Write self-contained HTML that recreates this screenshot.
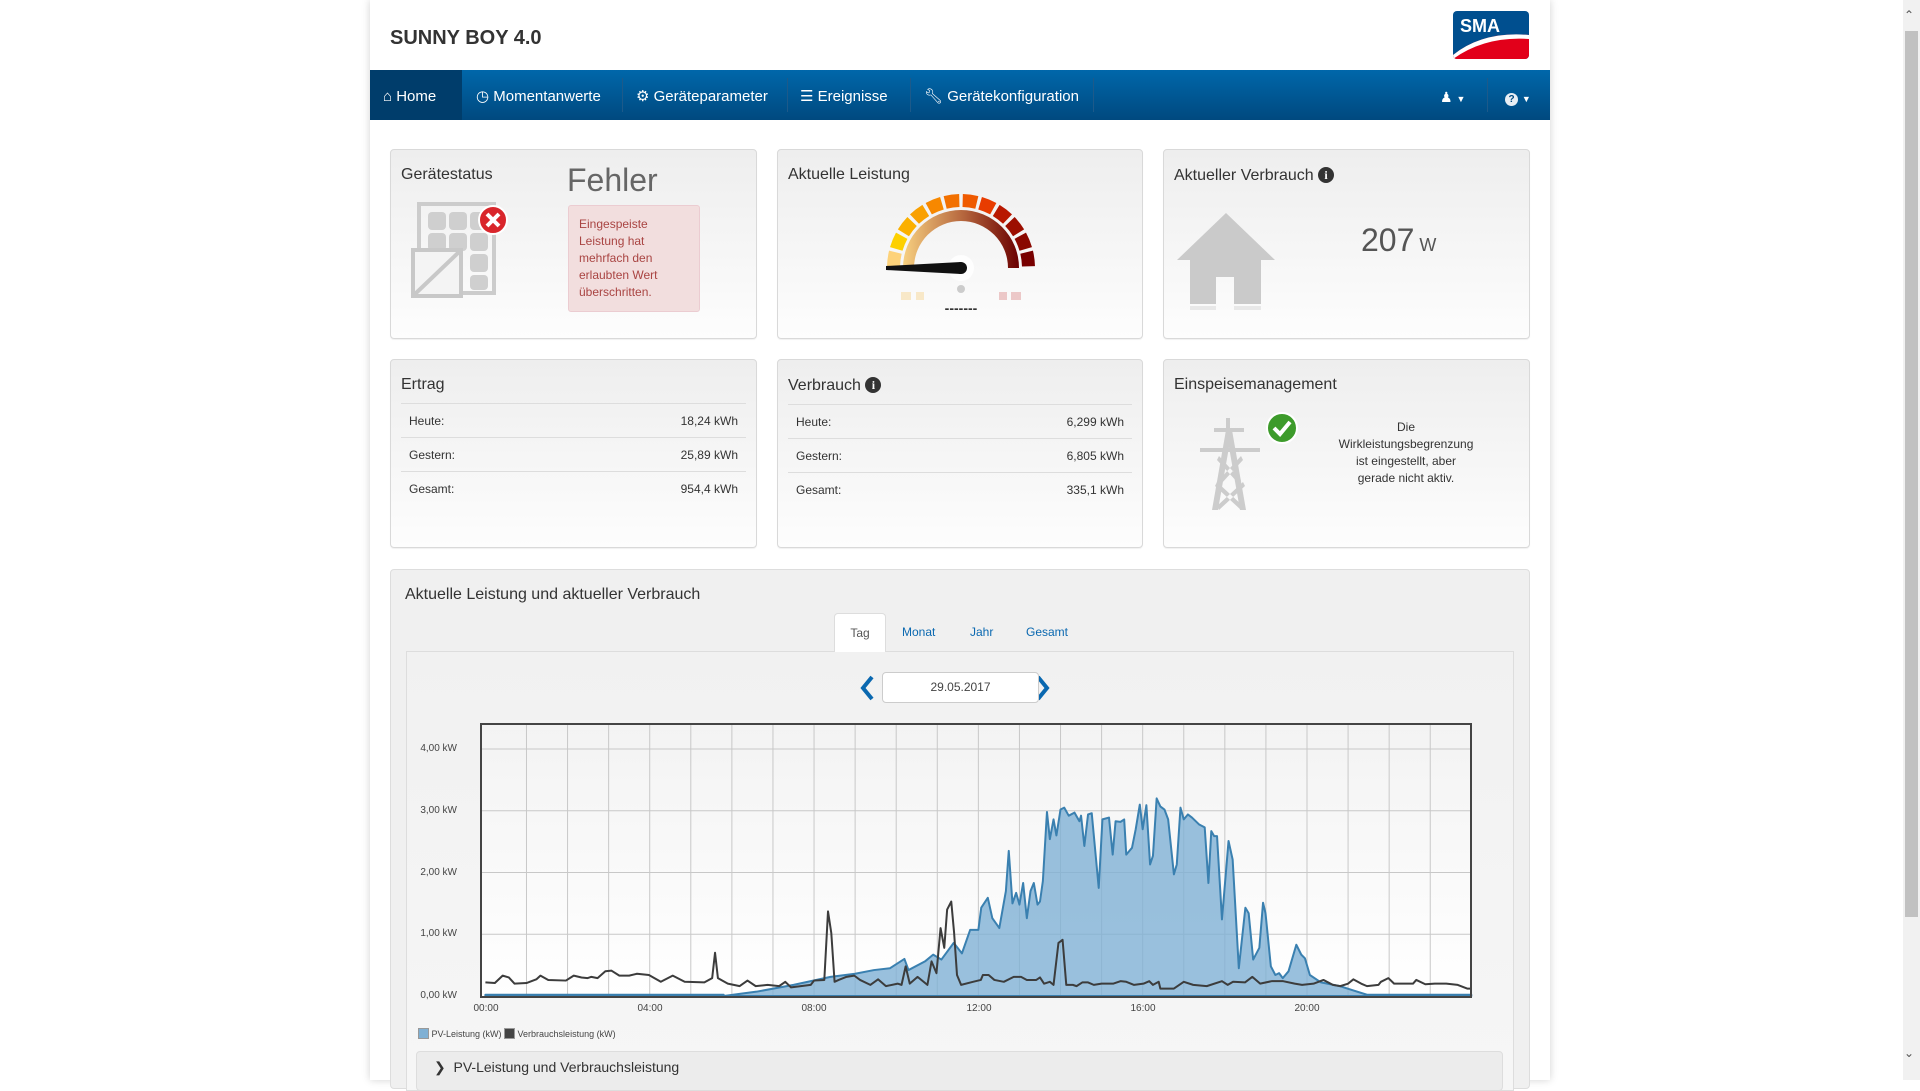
<!DOCTYPE html>
<html><head><meta charset="utf-8"><style>
*{box-sizing:border-box;margin:0;padding:0}
body{width:1920px;height:1080px;overflow:hidden;background:#fff;font-family:"Liberation Sans",sans-serif;position:relative;color:#333}
.abs{position:absolute}
#page{position:absolute;left:370px;top:0;width:1180px;height:1080px;background:#fff;box-shadow:0 0 8px rgba(0,0,0,.18)}
.nav{position:absolute;left:370px;top:70px;width:1180px;height:50px;background:linear-gradient(#0067aa,#00497f)}
.nav .it{position:absolute;top:2px;height:50px;line-height:50px;color:#fff;font-size:15px;white-space:nowrap}
.sep{position:absolute;top:8px;width:1px;height:34px;background:#1d5a8a}
.card{position:absolute;border:1px solid #d9d9d9;border-radius:4px;background:linear-gradient(#eeeeee,#fdfdfd);box-shadow:0 1px 1px rgba(0,0,0,.06)}
.ct{position:absolute;left:10px;top:16px;font-size:16px;color:#333}
.row{position:absolute;left:10px;right:10px;height:34px;border-top:1px solid #ddd;font-size:12px;line-height:34px}
.row span{position:absolute;right:8px}
.row b{font-weight:normal;position:absolute;left:8px}
.info{display:inline-block;width:16px;height:16px;border-radius:50%;background:#333;color:#fff;font-size:12px;font-weight:bold;text-align:center;line-height:16px;font-family:"Liberation Serif",serif;vertical-align:1px}
.yl{position:absolute;left:407px;width:50px;text-align:right;font-size:10px;color:#444}
.xl{position:absolute;top:1003px;font-size:10px;color:#444;width:40px;text-align:center}
</style></head><body>
<div id="page"></div>
<div class="abs" style="left:390px;top:27px;font-size:20px;font-weight:bold;color:#333">SUNNY BOY 4.0</div>
<svg class="abs" style="left:1453px;top:11px" width="76" height="48" viewBox="0 0 76 48">
<defs><clipPath id="lc"><rect width="76" height="48" rx="4"/></clipPath></defs>
<g clip-path="url(#lc)"><rect width="76" height="48" fill="#004f8f"/>
<path d="M0 48 L0 44 Q30 20 76 24 L76 48Z" fill="#e2001a"/>
<path d="M0 44 Q30 20 76 24 L76 28 Q32 25 0 48Z" fill="#fff"/></g>
<text x="7" y="21" font-family="Liberation Sans" font-weight="bold" font-size="18" fill="#fff">SMA</text></svg>

<div class="nav">
<div class="it" style="left:0;top:0;padding-top:2px;width:92px;background:#003d6b;padding-left:13px">&#8962; Home</div>
<div class="it" style="left:106px">&#9719; Momentanwerte</div>
<div class="sep" style="left:252px"></div>
<div class="it" style="left:266px">&#9881; Geräteparameter</div>
<div class="sep" style="left:417px"></div>
<div class="it" style="left:430px">&#9776; Ereignisse</div>
<div class="sep" style="left:540px"></div>
<div class="it" style="left:554px">&#128295;&#xFE0E; Gerätekonfiguration</div>
<div class="sep" style="left:723px"></div>
<div class="it" style="left:1070px;font-size:14px">&#9823; <span style="font-size:9px">&#9660;</span></div>
<div class="sep" style="left:1117px"></div>
<div class="it" style="left:1135px;font-size:14px"><span style="display:inline-block;width:13px;height:13px;border-radius:50%;background:#e8eef4;color:#00497f;font-size:10px;line-height:13px;text-align:center;font-weight:bold">?</span> <span style="font-size:9px">&#9660;</span></div>
</div>

<!-- row 1 -->
<div class="card" style="left:390px;top:149px;width:367px;height:190px">
<div class="ct">Gerätestatus</div>
<div class="abs" style="left:176px;top:12px;font-size:32px;color:#666">Fehler</div>
<div class="abs" style="left:177px;top:55px;width:132px;height:107px;background:#f2dede;border:1px solid #ebccd1;border-radius:3px;color:#a94442;font-size:12px;line-height:17px;padding:10px 10px">Eingespeiste Leistung hat mehrfach den erlaubten Wert überschritten.</div>
<svg class="abs" style="left:10px;top:40px" width="110" height="110">
<rect x="18" y="14" width="75" height="89" fill="none" stroke="#ccc" stroke-width="4"/>
<g fill="#cfcfcf"><rect x="27" y="22" width="18" height="18" rx="4"/><rect x="48" y="22" width="18" height="18" rx="4"/><rect x="69" y="22" width="18" height="18" rx="4"/>
<rect x="27" y="43" width="18" height="18" rx="4"/><rect x="48" y="43" width="18" height="18" rx="4"/><rect x="69" y="43" width="18" height="18" rx="4"/>
<rect x="69" y="64" width="18" height="18" rx="4"/><rect x="69" y="85" width="18" height="15" rx="4"/></g>
<rect x="12" y="60" width="48" height="46" fill="#f4f4f4" stroke="#c8c8c8" stroke-width="4"/>
<line x1="14" y1="104" x2="58" y2="62" stroke="#c8c8c8" stroke-width="4"/>
<circle cx="92" cy="30" r="14" fill="#d9262c" stroke="#fff" stroke-width="2"/>
<path d="M86 24 L98 36 M98 24 L86 36" stroke="#fff" stroke-width="4"/></svg>
</div>

<div class="card" style="left:777px;top:149px;width:366px;height:190px">
<div class="ct">Aktuelle Leistung</div>
<svg class="abs" style="left:0;top:0" width="366" height="190" id="g1"></svg>
</div>

<div class="card" style="left:1163px;top:149px;width:367px;height:190px">
<div class="ct" style="top:17px">Aktueller Verbrauch <span class="info">i</span></div>
<svg class="abs" style="left:12px;top:60px" width="100" height="100">
<path d="M50 3 L99 50 L85 50 L85 94 L58 94 L58 67 L40 67 L40 94 L14 94 L14 50 L1 50Z" fill="#cacaca"/>
<rect x="14" y="96" width="26" height="8" fill="#e8e8e8"/><rect x="58" y="96" width="27" height="8" fill="#e8e8e8"/></svg>
<div class="abs" style="left:197px;top:72px;font-size:32px;color:#555">207<span style="font-size:18px;margin-left:5px">W</span></div>
</div>

<!-- row 2 -->
<div class="card" style="left:390px;top:359px;width:367px;height:189px">
<div class="ct">Ertrag</div>
<div class="row" style="top:43px"><b>Heute:</b><span>18,24 kWh</span></div>
<div class="row" style="top:77px"><b>Gestern:</b><span>25,89 kWh</span></div>
<div class="row" style="top:111px"><b>Gesamt:</b><span>954,4 kWh</span></div>
</div>
<div class="card" style="left:777px;top:359px;width:366px;height:189px">
<div class="ct" style="top:17px">Verbrauch <span class="info">i</span></div>
<div class="row" style="top:44px"><b>Heute:</b><span>6,299 kWh</span></div>
<div class="row" style="top:78px"><b>Gestern:</b><span>6,805 kWh</span></div>
<div class="row" style="top:112px"><b>Gesamt:</b><span>335,1 kWh</span></div>
</div>
<div class="card" style="left:1163px;top:359px;width:367px;height:189px">
<div class="ct">Einspeisemanagement</div>
<svg class="abs" style="left:30px;top:50px" width="110" height="110">
<g fill="#cccccc"><rect x="32" y="8" width="4" height="10"/><rect x="20" y="18" width="30" height="4"/><rect x="6" y="38" width="60" height="4"/>
<path d="M32 20 L38 20 L52 100 L46 100Z"/><path d="M32 20 L38 20 L24 100 L18 100Z"/>
<path d="M25 46 L47 70 L45 74 L23 50Z M47 46 L25 70 L27 74 L49 50Z M23 72 L49 96 L47 100 L21 76Z M49 72 L23 96 L25 100 L51 76Z"/></g></svg>
<svg class="abs" style="left:100px;top:50px" width="36" height="36"><circle cx="18" cy="18" r="15" fill="#3d9b2b" stroke="#fff" stroke-width="2"/><path d="M10 18 L16 24 L26 12" stroke="#fff" stroke-width="4" fill="none"/></svg>
<div class="abs" style="left:172px;top:59px;width:140px;text-align:center;font-size:12px;line-height:17px;color:#333">Die Wirkleistungsbegrenzung ist eingestellt, aber gerade nicht aktiv.</div>
</div>

<!-- chart panel -->
<div class="abs" style="left:390px;top:569px;width:1140px;height:520px;background:#f0f0f0;border:1px solid #ddd;border-radius:4px"></div>
<div class="abs" style="left:405px;top:586px;font-size:16px;color:#333">Aktuelle Leistung und aktueller Verbrauch</div>
<div class="abs" style="left:406px;top:651px;width:1108px;height:440px;background:linear-gradient(#f1f1f1,#f6f6f6);border:1px solid #ddd"></div>
<div class="abs" style="left:834px;top:613px;width:52px;height:39px;background:#fff;border:1px solid #ddd;border-bottom:none;border-radius:4px 4px 0 0;font-size:12px;text-align:center;line-height:38px;color:#555">Tag</div>
<div class="abs" style="left:902px;top:625px;font-size:12px;color:#0a68b0">Monat</div>
<div class="abs" style="left:970px;top:625px;font-size:12px;color:#0a68b0">Jahr</div>
<div class="abs" style="left:1026px;top:625px;font-size:12px;color:#0a68b0">Gesamt</div>
<svg class="abs" style="left:858px;top:675px" width="200" height="26"><path d="M14 2 L5 13 L14 24" stroke="#0a68b0" stroke-width="4" fill="none"/><path d="M190 2 L199 13 L190 24" stroke="#0a68b0" stroke-width="4" fill="none" transform="translate(-10,0)"/></svg>
<div class="abs" style="left:882px;top:672px;width:157px;height:31px;background:#fff;border:1px solid #ccc;border-radius:4px;text-align:center;line-height:29px;font-size:12px;color:#444">29.05.2017</div>

<div class="yl" style="top:743px">4,00 kW</div>
<div class="yl" style="top:805px">3,00 kW</div>
<div class="yl" style="top:867px">2,00 kW</div>
<div class="yl" style="top:928px">1,00 kW</div>
<div class="yl" style="top:990px">0,00 kW</div>
<div class="xl" style="left:466px">00:00</div>
<div class="xl" style="left:630px">04:00</div>
<div class="xl" style="left:794px">08:00</div>
<div class="xl" style="left:959px">12:00</div>
<div class="xl" style="left:1123px">16:00</div>
<div class="xl" style="left:1287px">20:00</div>

<svg class="abs" style="left:0;top:0" width="1920" height="1080" id="ch">
<defs><linearGradient id="pb" x1="0" y1="0" x2="0" y2="1"><stop offset="0" stop-color="#f3f3f3"/><stop offset="1" stop-color="#ffffff"/></linearGradient></defs>
<rect x="481" y="724" width="990" height="273" fill="url(#pb)"/>
<g id="grid" stroke="#c8c8c8" stroke-width="1"></g>
<g transform="translate(485.4,996) scale(41.08,-61.75)">
<path id="pv" fill="#7fb0d4" fill-opacity="0.8" stroke="#3a80b0" stroke-width="2" vector-effect="non-scaling-stroke" stroke-linejoin="round"/>
<path id="vb" fill="none" stroke="#3c3c3c" stroke-width="2" vector-effect="non-scaling-stroke" stroke-linejoin="round"/>
</g>
<rect x="481" y="724" width="990" height="273" fill="none" stroke="#444" stroke-width="2"/>
</svg>
<div class="abs" style="left:418px;top:1028px;font-size:9px;color:#444;white-space:nowrap"><span style="display:inline-block;width:11px;height:11px;background:#7fb0d4;border:1px solid #999;vertical-align:-2px"></span> PV-Leistung (kW) <span style="display:inline-block;width:11px;height:11px;background:#444;border:1px solid #999;vertical-align:-2px"></span> Verbrauchsleistung (kW)</div>
<div class="abs" style="left:416px;top:1051px;width:1087px;height:40px;background:#ececec;border:1px solid #ddd;border-radius:4px"></div>
<div class="abs" style="left:434px;top:1059px;font-size:14px;color:#333">&#10095;&nbsp; PV-Leistung und Verbrauchsleistung</div>

<div class="abs" style="left:1903px;top:0;width:17px;height:1080px;background:#f1f1f1"></div>
<div class="abs" style="left:1905px;top:31px;width:13px;height:886px;background:#c1c1c1"></div>
<div class="abs" style="left:1904px;top:8px;font-size:12px;color:#555">&#8963;</div>
<div class="abs" style="left:1904px;top:1046px;font-size:12px;color:#555">&#8964;</div>

<script>
var g=document.getElementById('grid'),s='';
for(var h=1;h<24;h++){var x=485.4+41.08*h;s+='<line x1="'+x+'" y1="725" x2="'+x+'" y2="996"/>';}
for(var k=1;k<=4;k++){var y=996-61.75*k;s+='<line x1="482" y1="'+y+'" x2="1470" y2="'+y+'"/>';}
g.innerHTML=s;
var pv=[[5.8,0],[6.6,.07],[7.5,.18],[8.4,.31],[9,.36],[9.46,.42],[9.85,.45],[10.2,.6],[10.3,.42],[10.7,.56],[10.9,.67],[11.1,.59],[11.4,.86],[11.6,.69],[11.8,1.07],[12,1.07],[12.07,1.43],[12.23,1.59],[12.34,1.26],[12.51,1.1],[12.67,1.7],[12.74,2.35],[12.83,1.5],[12.92,1.67],[13,1.48],[13.09,1.83],[13.18,1.26],[13.27,1.7],[13.35,1.83],[13.44,1.48],[13.5,1.53],[13.57,1.86],[13.67,2.98],[13.74,2.54],[13.83,2.86],[13.9,2.6],[14,3.02],[14.09,3.05],[14.2,2.92],[14.34,2.97],[14.46,2.83],[14.5,2.92],[14.58,2.43],[14.67,2.94],[14.76,2.96],[14.93,1.75],[15.02,2.86],[15.18,2.89],[15.27,2.29],[15.34,2.83],[15.46,2.82],[15.55,2.86],[15.6,2.29],[15.74,2.4],[15.83,2.7],[15.93,3.1],[16,2.7],[16.09,3.09],[16.18,2.13],[16.25,2.27],[16.34,3.2],[16.43,3.07],[16.53,3.02],[16.62,2.86],[16.76,1.97],[16.83,2.13],[16.92,3.05],[17,2.86],[17.1,2.94],[17.2,2.89],[17.37,2.78],[17.51,2.73],[17.6,1.83],[17.67,2.67],[17.74,2.59],[17.81,2.59],[17.93,1.24],[18.09,2.51],[18.19,2.21],[18.34,.45],[18.5,1.43],[18.58,1.34],[18.69,.59],[18.84,.78],[18.93,1.51],[18.99,1.34],[19.12,.48],[19.23,.34],[19.32,.37],[19.41,.29],[19.55,.4],[19.74,.83],[19.86,.67],[19.95,.61],[20.07,.34],[20.34,.22],[20.8,.16],[21.08,.1],[21.46,.02],[24,.02]];
var d='M0 0 L0 .02 L5.8 .02';pv.forEach(function(p){d+=' L'+p[0]+' '+p[1];});d+=' L24 0Z';
document.getElementById('pv').setAttribute('d',d);
var vb=[[0,.22],[.23,.21],[.42,.33],[.57,.3],[.71,.2],[1,.21],[1.24,.27],[1.34,.33],[1.53,.26],[1.96,.25],[2.15,.33],[2.34,.3],[2.49,.29],[2.58,.31],[2.73,.29],[2.92,.4],[3.07,.41],[3.26,.33],[3.5,.33],[3.69,.36],[3.98,.34],[4.27,.23],[4.56,.33],[4.85,.23],[5.33,.22],[5.52,.29],[5.59,.7],[5.66,.29],[5.9,.2],[6.19,.16],[6.38,.25],[6.58,.16],[6.87,.18],[7.15,.16],[7.3,.23],[7.44,.14],[7.92,.18],[8,.25],[8.25,.26],[8.34,1.37],[8.42,1.02],[8.5,.23],[8.6,.26],[8.79,.31],[8.98,.33],[9.12,.26],[9.37,.18],[9.56,.27],[9.75,.16],[10.04,.2],[10.13,.18],[10.23,.48],[10.33,.2],[10.52,.31],[10.76,.18],[10.86,.56],[10.98,.37],[11.08,1.1],[11.17,.78],[11.24,1.4],[11.34,1.53],[11.41,1.02],[11.48,.34],[11.58,.18],[11.87,.23],[12.06,.26],[12.11,.34],[12.25,.34],[12.39,.26],[12.62,.23],[12.86,.31],[13.04,.31],[13.18,.26],[13.41,.26],[13.5,.3],[13.6,.2],[13.74,.23],[13.83,.18],[13.95,.86],[14.05,.91],[14.14,.18],[14.3,.18],[14.39,.16],[14.53,.22],[14.67,.22],[14.81,.18],[15,.2],[15.28,.2],[15.46,.24],[15.6,.23],[15.79,.18],[16.02,.2],[16.16,.24],[16.25,.18],[16.39,.23],[16.43,.12],[16.76,.12],[17,.23],[17.23,.18],[17.56,.16],[17.93,.24],[18.07,.18],[18.2,.23],[18.49,.22],[18.67,.31],[18.86,.2],[19.14,.24],[19.42,.24],[19.7,.2],[19.88,.18],[20.16,.2],[20.4,.26],[20.63,.18],[20.81,.16],[21,.2],[21.13,.27],[21.32,.2],[21.46,.16],[21.74,.18],[21.8,.23],[21.98,.29],[22.12,.2],[22.58,.2],[22.66,.26],[22.88,.19],[23.11,.2],[23.39,.2],[23.67,.18],[23.9,.12],[24,.12]];
var e='';vb.forEach(function(p,i){e+=(i?' L':'M')+p[0]+' '+p[1];});
document.getElementById('vb').setAttribute('d',e);
var cx=183,cy=118,o='',cols=['#fdd27a','#fdd000','#fbb000','#f9a000','#f78800','#f27000','#ef5a00','#e83c00','#b81800','#9c0e00','#8a0800','#780000'];
function pt(r,a){return [cx-r*Math.cos(a),cy-r*Math.sin(a)];}
for(var i=0;i<12;i++){var a1=i*Math.PI/12+0.025,a2=(i+1)*Math.PI/12-0.025;
var p1=pt(74,a1),p2=pt(74,a2),p3=pt(61,a2),p4=pt(61,a1);
o+='<path d="M'+p1+' A74 74 0 0 1 '+p2+' L'+p3+' A61 61 0 0 0 '+p4+'Z" fill="'+cols[i]+'"/>';}
o+='<defs><linearGradient id="ia"><stop offset="0" stop-color="#f7d080"/><stop offset=".5" stop-color="#b86a40"/><stop offset="1" stop-color="#6a0000"/></linearGradient></defs>';
o+='<path d="M'+(cx-58)+' '+cy+' A58 58 0 0 1 '+(cx+58)+' '+cy+' L'+(cx+47)+' '+cy+' A47 47 0 0 0 '+(cx-47)+' '+cy+'Z" fill="url(#ia)"/>';
o+='<circle cx="'+cx+'" cy="'+cy+'" r="13" fill="#fff" opacity=".8"/><path d="M'+(cx-75)+' '+(cy-2)+' L'+cx+' '+(cy-6)+' L'+cx+' '+(cy+6)+' L'+(cx-75)+' '+(cy+2)+'Z" fill="#111"/><circle cx="'+cx+'" cy="'+cy+'" r="6" fill="#111"/>';
o+='<circle cx="'+cx+'" cy="'+(cy+21)+'" r="4" fill="#ccc"/><rect x="'+(cx-60)+'" y="'+(cy+24)+'" width="10" height="8" fill="#f8e8c8"/><rect x="'+(cx-45)+'" y="'+(cy+24)+'" width="8" height="8" fill="#f8e8c8"/><rect x="'+(cx+38)+'" y="'+(cy+24)+'" width="8" height="8" fill="#ecc8c8"/><rect x="'+(cx+50)+'" y="'+(cy+24)+'" width="10" height="8" fill="#ecc8c8"/>';
o+='<text x="'+cx+'" y="'+(cy+45)+'" text-anchor="middle" font-family="Liberation Sans" font-size="14" font-weight="bold" fill="#333">-------</text>';
document.getElementById('g1').innerHTML=o;
</script>
</body></html>
